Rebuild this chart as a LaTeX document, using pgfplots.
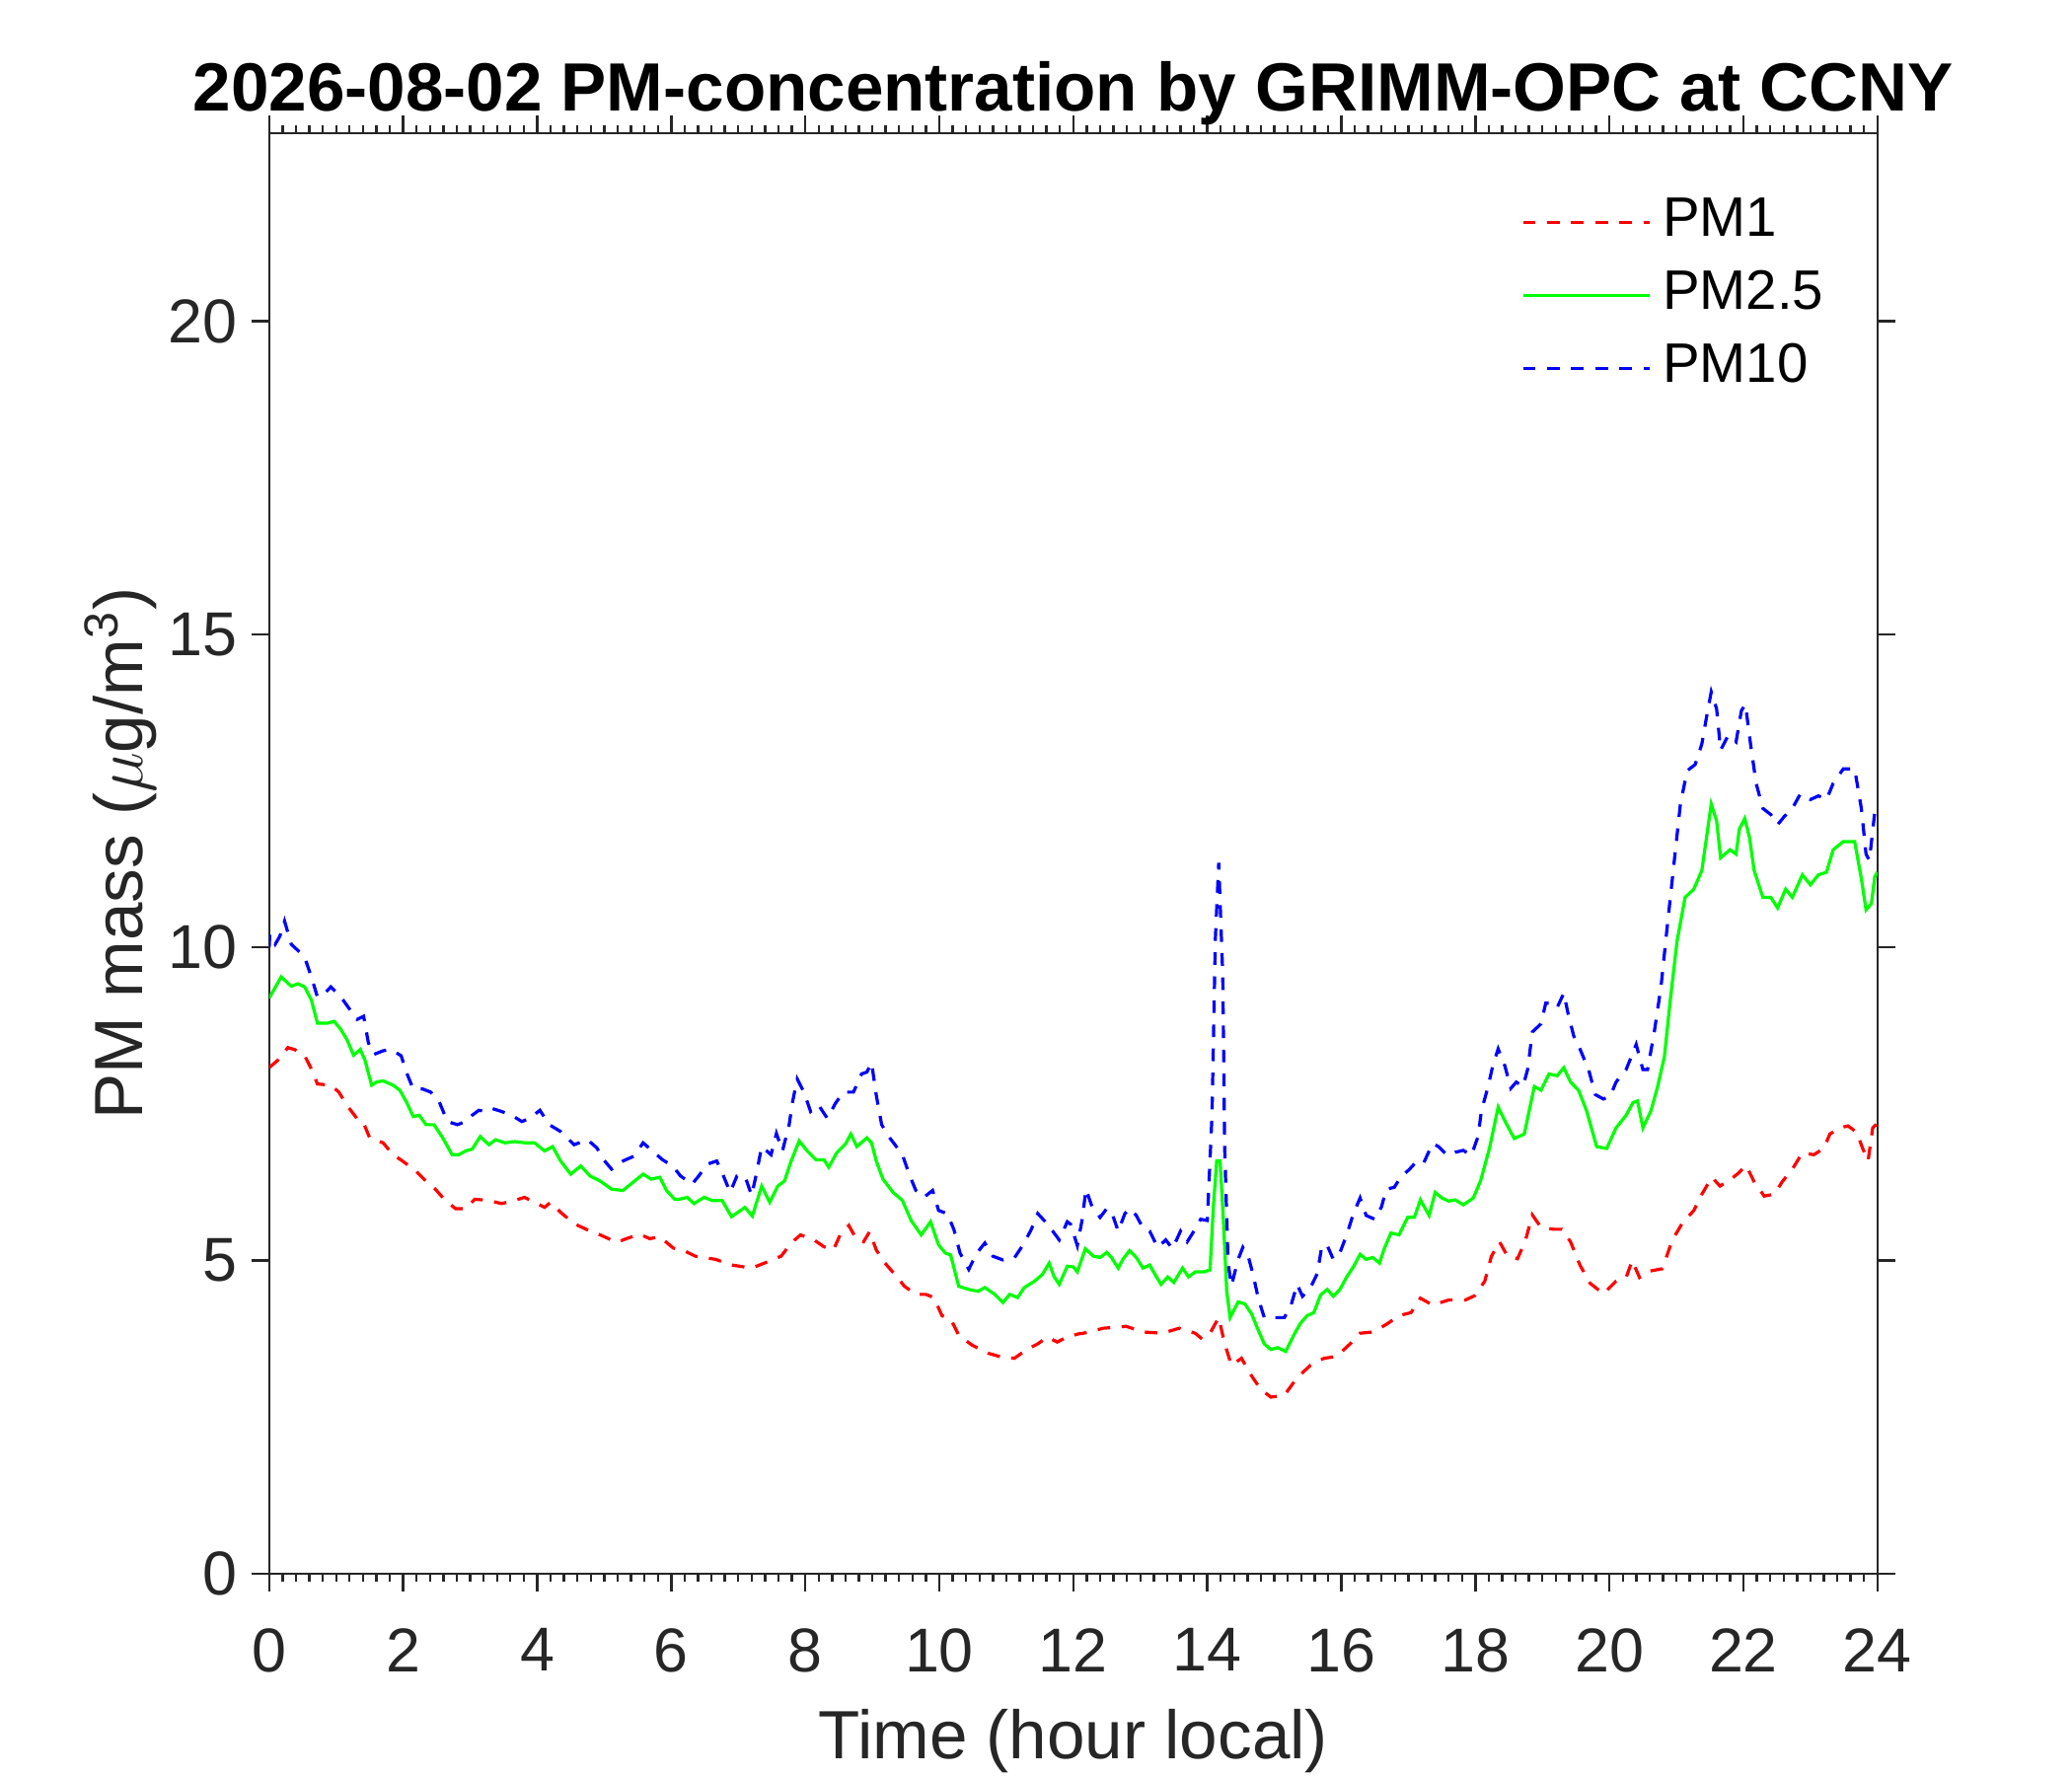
\documentclass[border=0pt]{standalone}
\usepackage{fontspec}
\setmainfont{Liberation Sans}
\usepackage{pgfplots}
\pgfplotsset{compat=1.18}
\definecolor{axgray}{HTML}{262626}
\begin{document}
\begin{tikzpicture}
\begin{axis}[
  scale only axis, width=407.5pt, height=365pt,
  xmin=0, xmax=24, ymin=0, ymax=23,
  xtick={0,2,...,24}, ytick={0,5,10,15,20},
  minor x tick num=9,
  tick align=outside,
  major tick length=4.5pt, minor tick length=2pt,
  axis line style={axgray, line width=0.6pt},
  every tick/.style={axgray, line width=0.6pt},
  /pgf/number format/assume math mode=true,
  tick label style={font=\fontsize{15.7}{18}\selectfont, text=axgray},
  xticklabel style={yshift=-5.8pt},
  xlabel={Time (hour local)},
  ylabel={PM mass ($\mu$g/m\textsuperscript{3})},
  xlabel style={font=\fontsize{17.3}{20}\selectfont, text=axgray, at={(rel axis cs:0.5,0)}, anchor=center, yshift=-42.5pt},
  ylabel style={font=\fontsize{17.3}{20}\selectfont, text=axgray, at={(axis description cs:-0.0925,0.5)}, anchor=center},
  title={2026-08-02 PM-concentration by GRIMM-OPC at CCNY},
  title style={font=\fontsize{17.3}{20}\selectfont\bfseries, at={(rel axis cs:0.5,1)}, anchor=base, yshift=-0.5pt},
  legend style={at={(rel axis cs:0.7787,0.956)}, anchor=north west, draw=none, fill=none,
    inner sep=0pt, outer sep=0pt, font=\fontsize{14.1}{16}\selectfont,
    nodes={inner sep=0pt, text height=10pt, text depth=3pt}, row sep=5.5pt},
  legend cell align=left,
  legend image code/.code={\draw[#1] (0pt,0pt) -- (32pt,0pt); \path (35pt,0pt);},
]
\addplot[red, line width=0.8pt, dash pattern=on 3.2pt off 2.9pt] table {
0.0 8.08
0.13 8.2
0.28 8.40
0.38 8.37
0.53 8.27
0.63 8.06
0.72 7.82
0.92 7.80
1.04 7.69
1.16 7.48
1.31 7.27
1.40 7.22
1.50 6.96
1.70 6.88
1.85 6.69
1.99 6.59
2.19 6.43
2.34 6.27
2.48 6.14
2.63 5.96
2.78 5.83
2.93 5.83
3.07 5.98
3.27 5.96
3.47 5.91
3.66 5.96
3.81 6.01
3.96 5.93
4.11 5.85
4.20 5.93
4.35 5.77
4.55 5.59
4.75 5.49
4.94 5.41
5.19 5.29
5.33 5.35
5.53 5.42
5.68 5.35
5.83 5.38
6.03 5.20
6.17 5.17
6.36 5.07
6.66 5.02
6.90 4.93
7.20 4.88
7.39 4.96
7.64 5.07
7.79 5.28
7.93 5.41
8.13 5.33
8.28 5.22
8.42 5.17
8.52 5.41
8.65 5.56
8.77 5.33
8.87 5.30
8.96 5.46
9.06 5.17
9.19 4.96
9.36 4.75
9.48 4.59
9.65 4.46
9.80 4.46
9.92 4.41
10.04 4.12
10.17 4.07
10.29 3.81
10.49 3.65
10.73 3.52
10.93 3.46
11.12 3.44
11.32 3.59
11.47 3.67
11.61 3.78
11.76 3.70
11.91 3.78
12.08 3.83
12.15 3.84
12.45 3.92
12.79 3.95
13.04 3.86
13.33 3.84
13.58 3.92
13.82 3.84
13.92 3.75
14.04 3.84
14.17 4.09
14.26 3.67
14.36 3.33
14.51 3.44
14.66 3.16
14.80 2.94
14.95 2.82
15.15 2.85
15.34 3.13
15.54 3.33
15.74 3.44
15.93 3.47
16.13 3.67
16.28 3.84
16.47 3.86
16.67 3.98
16.86 4.12
17.04 4.17
17.18 4.40
17.36 4.29
17.60 4.37
17.85 4.37
17.99 4.44
18.14 4.67
18.24 5.07
18.36 5.30
18.48 5.07
18.63 5.03
18.75 5.33
18.85 5.73
18.98 5.53
19.17 5.50
19.29 5.50
19.42 5.30
19.56 4.93
19.71 4.64
19.91 4.47
20.10 4.67
20.25 4.73
20.34 5.00
20.45 4.73
20.59 4.83
20.79 4.87
20.94 5.33
21.09 5.60
21.26 5.80
21.38 6.06
21.53 6.33
21.65 6.19
21.80 6.29
21.92 6.39
22.04 6.52
22.16 6.26
22.31 6.03
22.46 6.06
22.58 6.26
22.73 6.46
22.88 6.72
23.05 6.69
23.20 6.79
23.29 7.02
23.44 7.12
23.56 7.15
23.69 7.05
23.78 6.79
23.86 6.59
23.93 7.12
24.0 7.19
};
\addlegendentry{PM1}
\addplot[color={rgb,1:red,0;green,1;blue,0}, line width=0.8pt] table {
0.0 9.19
0.18 9.53
0.33 9.38
0.43 9.42
0.53 9.37
0.63 9.16
0.72 8.79
0.87 8.79
0.97 8.82
1.07 8.69
1.16 8.53
1.26 8.28
1.36 8.37
1.43 8.2
1.53 7.80
1.60 7.85
1.70 7.87
1.85 7.80
1.95 7.72
2.05 7.53
2.15 7.30
2.24 7.32
2.34 7.17
2.46 7.17
2.59 6.96
2.73 6.69
2.83 6.69
2.93 6.75
3.03 6.78
3.15 6.98
3.28 6.85
3.38 6.93
3.52 6.88
3.67 6.90
3.82 6.88
3.96 6.88
4.11 6.75
4.23 6.82
4.35 6.59
4.50 6.38
4.65 6.51
4.79 6.35
4.94 6.27
5.11 6.14
5.28 6.12
5.43 6.25
5.58 6.38
5.70 6.30
5.83 6.33
5.93 6.12
6.05 5.98
6.12 5.98
6.24 6.01
6.34 5.91
6.49 6.01
6.61 5.96
6.76 5.96
6.90 5.70
7.10 5.85
7.21 5.71
7.35 6.19
7.47 5.93
7.59 6.19
7.69 6.27
7.79 6.59
7.91 6.91
8.03 6.75
8.16 6.61
8.28 6.61
8.35 6.49
8.47 6.72
8.60 6.86
8.68 7.02
8.77 6.82
8.92 6.96
8.99 6.88
9.06 6.59
9.16 6.30
9.31 6.09
9.45 5.96
9.58 5.64
9.73 5.41
9.87 5.62
9.99 5.25
10.09 5.12
10.17 5.09
10.29 4.59
10.44 4.54
10.58 4.51
10.68 4.57
10.83 4.46
10.95 4.33
11.05 4.46
11.17 4.41
11.27 4.57
11.42 4.67
11.54 4.78
11.64 4.96
11.71 4.75
11.79 4.62
11.91 4.91
12.00 4.90
12.06 4.82
12.18 5.19
12.30 5.07
12.40 5.05
12.50 5.13
12.57 5.05
12.67 4.88
12.74 5.02
12.84 5.16
12.94 5.05
13.04 4.88
13.14 4.93
13.23 4.76
13.31 4.62
13.41 4.74
13.50 4.65
13.63 4.88
13.72 4.74
13.82 4.82
13.95 4.82
14.04 4.85
14.09 5.86
14.14 6.59
14.19 6.59
14.24 5.64
14.29 4.51
14.34 4.09
14.46 4.34
14.56 4.31
14.66 4.15
14.76 3.89
14.85 3.67
14.95 3.58
15.05 3.61
15.17 3.55
15.29 3.81
15.39 4.00
15.49 4.12
15.59 4.17
15.69 4.45
15.79 4.54
15.88 4.43
15.98 4.54
16.08 4.74
16.18 4.90
16.28 5.10
16.37 5.02
16.47 5.05
16.57 4.96
16.64 5.19
16.74 5.44
16.86 5.41
16.99 5.69
17.09 5.69
17.18 5.97
17.31 5.72
17.40 6.09
17.50 6.00
17.60 5.95
17.70 5.97
17.82 5.89
17.97 6.00
18.08 6.28
18.21 6.79
18.34 7.45
18.46 7.19
18.58 6.95
18.73 7.02
18.88 7.78
18.98 7.72
19.10 7.98
19.22 7.95
19.32 8.08
19.42 7.85
19.54 7.72
19.66 7.39
19.81 6.82
19.96 6.79
20.10 7.12
20.25 7.32
20.35 7.52
20.42 7.55
20.50 7.12
20.62 7.39
20.72 7.78
20.82 8.25
20.91 9.17
21.01 10.10
21.13 10.80
21.26 10.93
21.38 11.23
21.45 11.76
21.52 12.29
21.60 12.02
21.66 11.43
21.80 11.56
21.89 11.49
21.94 11.89
22.02 12.06
22.09 11.76
22.16 11.23
22.29 10.80
22.41 10.80
22.51 10.63
22.63 10.93
22.73 10.80
22.88 11.16
23.00 11.00
23.12 11.16
23.24 11.20
23.34 11.56
23.49 11.69
23.66 11.69
23.76 11.10
23.83 10.60
23.91 10.70
23.96 11.13
24.0 11.20
};
\addlegendentry{PM2.5}
\addplot[blue, line width=0.8pt, dash pattern=on 3.2pt off 2.9pt] table {
0.0 10.0
0.01 10.21
0.09 10.05
0.16 10.18
0.23 10.42
0.33 10.05
0.43 9.95
0.53 9.84
0.63 9.53
0.72 9.21
0.82 9.26
0.92 9.37
1.07 9.21
1.21 9.0
1.31 8.85
1.41 8.9
1.48 8.48
1.56 8.29
1.70 8.35
1.82 8.37
1.97 8.27
2.05 8.0
2.15 7.74
2.29 7.74
2.41 7.69
2.54 7.53
2.66 7.22
2.81 7.17
2.93 7.22
3.03 7.32
3.13 7.40
3.23 7.38
3.32 7.43
3.47 7.38
3.62 7.32
3.77 7.22
3.89 7.27
4.04 7.40
4.18 7.17
4.35 7.06
4.55 6.85
4.75 6.93
4.89 6.80
4.99 6.61
5.11 6.46
5.28 6.59
5.45 6.67
5.58 6.88
5.72 6.75
5.87 6.61
6.02 6.51
6.14 6.35
6.31 6.22
6.41 6.35
6.54 6.54
6.68 6.59
6.78 6.35
6.88 6.09
6.98 6.35
7.10 6.35
7.20 6.04
7.27 6.38
7.35 6.82
7.49 6.69
7.57 7.03
7.66 6.75
7.76 7.17
7.81 7.53
7.88 7.90
7.98 7.69
8.08 7.38
8.20 7.48
8.33 7.27
8.45 7.51
8.57 7.69
8.72 7.69
8.84 7.98
8.92 8.01
8.99 8.16
9.06 7.64
9.14 7.17
9.26 6.96
9.36 6.82
9.45 6.69
9.55 6.38
9.65 6.12
9.77 6.01
9.90 6.12
9.99 5.80
10.12 5.75
10.22 5.49
10.31 5.12
10.44 4.86
10.56 5.12
10.68 5.28
10.80 5.07
10.95 5.01
11.12 5.04
11.25 5.25
11.37 5.49
11.47 5.75
11.61 5.59
11.79 5.33
11.91 5.62
11.96 5.58
12.06 5.24
12.13 5.64
12.19 6.14
12.28 5.86
12.40 5.69
12.50 5.83
12.57 5.78
12.67 5.47
12.77 5.75
12.84 5.83
12.94 5.72
13.04 5.52
13.14 5.47
13.26 5.21
13.38 5.33
13.48 5.19
13.60 5.47
13.70 5.30
13.80 5.47
13.90 5.66
14.00 5.64
14.07 7.32
14.12 10.14
14.17 11.35
14.23 9.57
14.26 6.76
14.31 4.96
14.36 4.60
14.46 5.02
14.53 5.21
14.61 5.07
14.68 4.79
14.76 4.40
14.85 4.09
15.00 4.09
15.15 4.09
15.25 4.29
15.34 4.62
15.42 4.43
15.54 4.57
15.64 4.79
15.71 5.24
15.79 5.24
15.88 5.02
15.98 5.13
16.08 5.41
16.18 5.75
16.28 6.00
16.37 5.72
16.50 5.66
16.60 5.86
16.67 6.14
16.79 6.17
16.89 6.34
17.01 6.45
17.13 6.59
17.23 6.56
17.36 6.87
17.45 6.82
17.58 6.68
17.70 6.73
17.82 6.76
17.94 6.68
18.04 6.98
18.09 7.39
18.19 7.78
18.26 8.11
18.34 8.38
18.44 8.11
18.53 7.75
18.61 7.85
18.71 7.78
18.78 8.05
18.85 8.65
18.98 8.78
19.05 9.11
19.15 9.11
19.22 9.04
19.32 9.27
19.39 8.91
19.47 8.58
19.56 8.38
19.69 8.05
19.79 7.65
19.91 7.58
20.01 7.62
20.10 7.85
20.25 8.05
20.40 8.45
20.50 8.05
20.57 8.05
20.67 8.65
20.77 9.37
20.86 10.30
20.96 11.30
21.06 12.29
21.16 12.82
21.28 12.92
21.38 13.25
21.45 13.68
21.52 14.08
21.60 13.81
21.66 13.15
21.77 13.38
21.89 13.28
21.97 13.78
22.03 13.88
22.11 13.22
22.19 12.62
22.29 12.22
22.41 12.12
22.51 11.96
22.61 12.09
22.73 12.22
22.85 12.45
23.00 12.36
23.12 12.42
23.24 12.36
23.34 12.62
23.49 12.85
23.66 12.85
23.76 12.22
23.83 11.49
23.88 11.39
23.96 12.16
24.0 12.20
};
\addlegendentry{PM10}
\end{axis}
\pgfresetboundingbox
\path[use as bounding box] (-68.2pt,-51.25pt) rectangle (456.8pt,398.75pt);
\end{tikzpicture}
\end{document}
